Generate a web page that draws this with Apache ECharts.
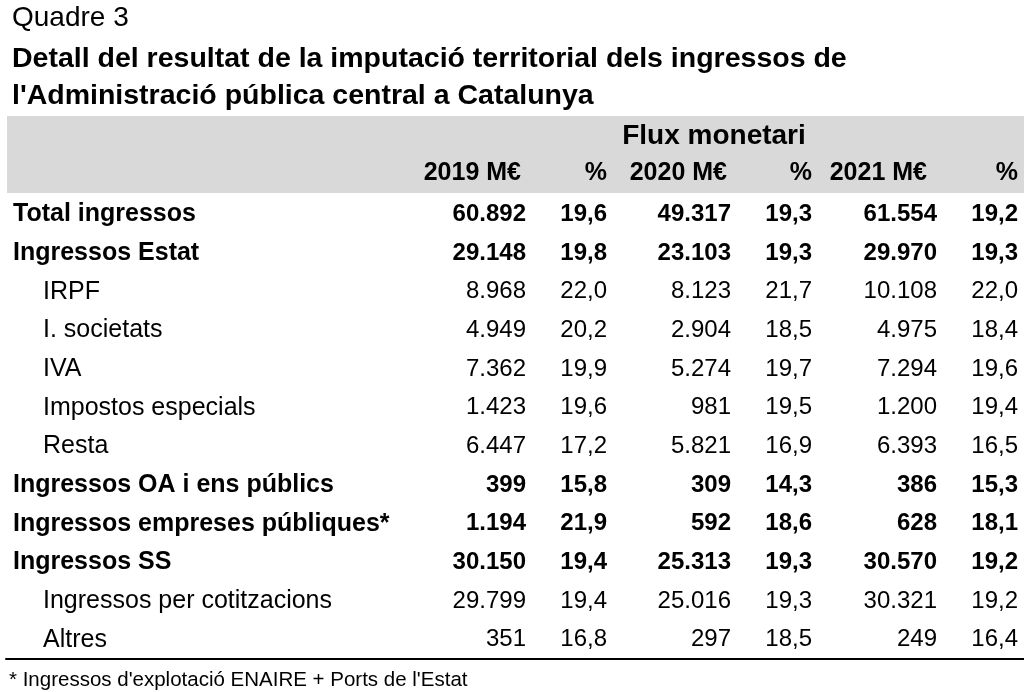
<!DOCTYPE html>
<html>
<head>
<meta charset="utf-8">
<title>Quadre 3</title>
<script src="https://cdn.jsdelivr.net/npm/echarts@6/dist/echarts.min.js"></script>
<style>
  html, body { margin: 0; padding: 0; background: #fff; }
  #main { width: 1024px; height: 692px; }
</style>
</head>
<body>
<div id="main"></div>
<script>
// table data
const rowLabels = [
  'Total ingressos',
  'Ingressos Estat',
  'IRPF',
  'I. societats',
  'IVA',
  'Impostos especials',
  'Resta',
  'Ingressos OA i ens públics',
  'Ingressos empreses públiques*',
  'Ingressos SS',
  'Ingressos per cotitzacions',
  'Altres'
];
const rowBold = [true, true, false, false, false, false, false, true, true, true, false, false];

const m2019 = [60892, 29148, 8968, 4949, 7362, 1423, 6447, 399, 1194, 30150, 29799, 351];
const p2019 = [19.6, 19.8, 22.0, 20.2, 19.9, 19.6, 17.2, 15.8, 21.9, 19.4, 19.4, 16.8];
const m2020 = [49317, 23103, 8123, 2904, 5274, 981, 5821, 309, 592, 25313, 25016, 297];
const p2020 = [19.3, 19.3, 21.7, 18.5, 19.7, 19.5, 16.9, 14.3, 18.6, 19.3, 19.3, 18.5];
const m2021 = [61554, 29970, 10108, 4975, 7294, 1200, 6393, 386, 628, 30570, 30321, 249];
const p2021 = [19.2, 19.3, 22.0, 18.4, 19.6, 19.4, 16.5, 15.3, 18.1, 19.2, 19.2, 16.4];

const colHeads = ['2019 M€', '%', '2020 M€', '%', '2021 M€', '%'];
const groupHead = 'Flux monetari';
const footnote = "* Ingressos d'explotació ENAIRE + Ports de l'Estat";

// layout
const FONT = "'Liberation Sans', Arial, sans-serif";
const colRight = [526, 607, 731, 812, 937, 1018];
const headRight = [521, 607, 727, 812, 927, 1018];

const columns = [m2019, p2019, m2020, p2020, m2021, p2021];
const isPct = [false, true, false, true, false, true];

function fmtNum(v) {
  return String(v).replace(/\B(?=(\d{3})+(?!\d))/g, '.');
}
function fmtPct(v) {
  return v.toFixed(1).replace('.', ',');
}

const cells = [];
columns.forEach((col, c) => {
  col.forEach((v, r) => {
    cells.push([r, c, isPct[c] ? fmtPct(v) : fmtNum(v)]);
  });
});

const chart = echarts.init(document.getElementById('main'));

const headerTexts = colHeads.map((h, i) => ({
  type: 'text',
  x: headRight[i],
  y: 173,
  style: {
    text: h, font: 'bold 25px ' + FONT, fill: '#000',
    align: 'right', textAlign: 'right', verticalAlign: 'middle', textVerticalAlign: 'middle'
  }
}));

const option = {
  animation: false,
  grid: { left: 6, right: 0, top: 195, height: 464 },
  xAxis: {
    type: 'value',
    min: 6,
    max: 1024,
    axisLine: { show: true, onZero: false, lineStyle: { color: '#000', width: 2 } },
    axisTick: { show: false },
    axisLabel: { show: false },
    splitLine: { show: false }
  },
  yAxis: {
    type: 'category',
    inverse: true,
    data: rowLabels,
    axisLine: { show: false },
    axisTick: { show: false },
    splitLine: { show: false },
    axisLabel: {
      inside: true,
      margin: 7,
      formatter: (v, i) => (rowBold[i] ? '{b|' : '{n|') + v + '}',
      rich: {
        b: { fontFamily: FONT, fontSize: 25, fontWeight: 'bold', color: '#000' },
        n: { fontFamily: FONT, fontSize: 25, color: '#000', padding: [0, 0, 0, 30] }
      }
    }
  },
  series: [{
    type: 'custom',
    data: cells,
    encode: { x: 1, y: 0 },
    renderItem: (params, api) => {
      const r = api.value(0);
      const c = api.value(1);
      const pt = api.coord([colRight[c], r]);
      return {
        type: 'text',
        style: {
          text: cells[params.dataIndex][2],
          x: pt[0],
          y: pt[1],
          align: 'right', textAlign: 'right',
          verticalAlign: 'middle', textVerticalAlign: 'middle',
          font: (rowBold[r] ? 'bold ' : '') + '24px ' + FONT,
          fill: '#000'
        }
      };
    }
  }],
  graphic: [
    {
      type: 'rect', z: -1,
      shape: { x: 7, y: 116, width: 1017, height: 77 },
      style: { fill: '#d9d9d9' }
    },
    {
      type: 'text', x: 12, y: 18,
      style: { text: 'Quadre 3', font: '28px ' + FONT, fill: '#000', verticalAlign: 'middle', textVerticalAlign: 'middle' }
    },
    {
      type: 'text', x: 12, y: 59,
      style: { text: 'Detall del resultat de la imputació territorial dels ingressos de', font: 'bold 28.5px ' + FONT, fill: '#000', verticalAlign: 'middle', textVerticalAlign: 'middle' }
    },
    {
      type: 'text', x: 12, y: 96,
      style: { text: "l'Administració pública central a Catalunya", font: 'bold 28.5px ' + FONT, fill: '#000', verticalAlign: 'middle', textVerticalAlign: 'middle' }
    },
    {
      type: 'text', x: 714, y: 136,
      style: { text: groupHead, font: 'bold 28px ' + FONT, fill: '#000', align: 'center', textAlign: 'center', verticalAlign: 'middle', textVerticalAlign: 'middle' }
    },
    ...headerTexts,
    {
      type: 'text', x: 9, y: 680,
      style: { text: footnote, font: '20.5px ' + FONT, fill: '#000', verticalAlign: 'middle', textVerticalAlign: 'middle' }
    }
  ]
};

chart.setOption(option);
</script>
</body>
</html>
